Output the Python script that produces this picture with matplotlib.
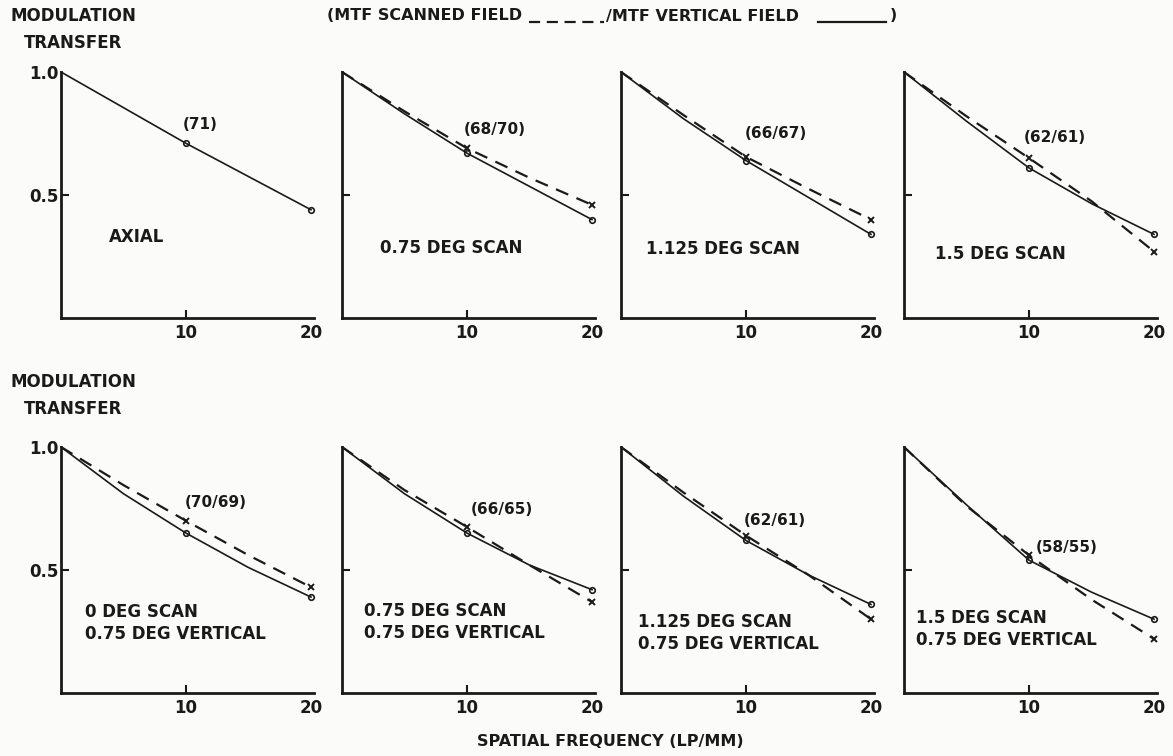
import matplotlib
matplotlib.use("Agg")
import matplotlib.pyplot as plt
from matplotlib.lines import Line2D

plt.rcParams["font.family"] = ["DejaVu Sans"]
plt.rcParams["font.weight"] = "bold"

# spatial frequency (lp/mm) where curves were read
freq = [0, 5, 10, 15, 20]

# top row: scanned field (dashed) / vertical field (solid)
top_labels = ["AXIAL", "0.75 DEG SCAN", "1.125 DEG SCAN", "1.5 DEG SCAN"]
top_tags = ["(71)", "(68/70)", "(66/67)", "(62/61)"]
top_solid = [
    [1.0, 0.855, 0.71, 0.575, 0.44],
    [1.0, 0.83, 0.67, 0.535, 0.40],
    [1.0, 0.81, 0.64, 0.49, 0.34],
    [1.0, 0.80, 0.61, 0.465, 0.34],
]
top_dashed = [
    None,
    [1.0, 0.84, 0.69, 0.57, 0.46],
    [1.0, 0.825, 0.655, 0.525, 0.40],
    [1.0, 0.82, 0.65, 0.475, 0.27],
]

# bottom row: scan angle with 0.75 deg vertical
bot_labels = ["0 DEG SCAN\n0.75 DEG VERTICAL", "0.75 DEG SCAN\n0.75 DEG VERTICAL",
              "1.125 DEG SCAN\n0.75 DEG VERTICAL", "1.5 DEG SCAN\n0.75 DEG VERTICAL"]
bot_tags = ["(70/69)", "(66/65)", "(62/61)", "(58/55)"]
bot_solid = [
    [1.0, 0.81, 0.65, 0.51, 0.39],
    [1.0, 0.81, 0.65, 0.52, 0.42],
    [1.0, 0.80, 0.62, 0.48, 0.36],
    [1.0, 0.765, 0.54, 0.41, 0.30],
]
bot_dashed = [
    [1.0, 0.845, 0.70, 0.56, 0.43],
    [1.0, 0.825, 0.675, 0.52, 0.37],
    [1.0, 0.815, 0.64, 0.48, 0.30],
    [1.0, 0.76, 0.56, 0.38, 0.22],
]

# annotation placement (data coords) per panel
top_tag_pos = [(11.1, 0.785), (12.2, 0.765), (12.4, 0.75), (12.1, 0.735)]
top_lab_pos = [(3.8, 0.33), (3.0, 0.285), (2.0, 0.28), (2.5, 0.26)]
bot_tag_pos = [(12.4, 0.775), (12.8, 0.745), (12.3, 0.70), (13.0, 0.59)]
bot_lab_pos = [(1.9, 0.285), (1.8, 0.29), (1.4, 0.245), (1.0, 0.26)]

W, H = 1173, 756
ink = "#1a1a1a"
fig = plt.figure(figsize=(W / 100, H / 100), dpi=100, facecolor="#fbfbfa")

lefts = [61, 342, 621, 904]
px_per_unit = 12.5


def panel(left, bottom_px, top_px, solid, dashed, tag, tag_pos, lab, lab_pos, first):
    width = 21 * px_per_unit
    ax = fig.add_axes([left / W, 1 - bottom_px / H, width / W, (bottom_px - top_px) / H])
    ax.set_facecolor("none")
    ax.set_xlim(0, 21)
    ax.set_ylim(0, 1.0)
    for s in ["top", "right"]:
        ax.spines[s].set_visible(False)
    for s in ["left", "bottom"]:
        ax.spines[s].set_linewidth(2.0)
        ax.spines[s].set_color(ink)
    ax.spines["bottom"].set_bounds(0, 20.2)
    ax.set_xticks([10, 20])
    ax.set_xticklabels(["10", "20"])
    ax.xaxis.get_major_ticks()[1].tick1line.set_visible(False)
    ax.set_yticks([0.5, 1.0])
    if first:
        ax.set_yticklabels(["0.5", "1.0"])
    else:
        ax.set_yticklabels(["", ""])
    ax.yaxis.get_major_ticks()[1].tick1line.set_visible(False)
    ax.tick_params(direction="in", length=6, width=1.5, color=ink, labelsize=12,
                   labelcolor=ink, pad=4)
    ax.tick_params(axis="y", pad=2)
    ax.plot(freq, solid, color=ink, lw=1.2, marker="o", markevery=[2, 4],
            ms=4, mfc="none", mew=1.2, clip_on=False)
    if dashed is not None:
        ax.plot(freq, dashed, color=ink, lw=1.6, ls=(0, (6, 4)), marker="x",
                markevery=[2, 4], ms=5, mew=1.4, clip_on=False)
    ax.text(tag_pos[0], tag_pos[1], tag, ha="center", va="center", fontsize=11,
            color=ink)
    ax.text(lab_pos[0], lab_pos[1], lab, ha="left", va="center", fontsize=12,
            color=ink, linespacing=1.3)
    return ax


for i in range(4):
    panel(lefts[i], 318, 72, top_solid[i], top_dashed[i], top_tags[i],
          top_tag_pos[i], top_labels[i], top_lab_pos[i], i == 0)
    panel(lefts[i], 693, 447, bot_solid[i], bot_dashed[i], bot_tags[i],
          bot_tag_pos[i], bot_labels[i], bot_lab_pos[i], i == 0)

for y0 in (16, 382):
    fig.text(73 / W, 1 - y0 / H, "MODULATION", ha="center", va="center",
             fontsize=12, color=ink)
    fig.text(73 / W, 1 - (y0 + 27) / H, "TRANSFER", ha="center", va="center",
             fontsize=12, color=ink)

# header key: text pieces with real dashed / solid line samples
fig.text(327 / W, 1 - 16 / H, "(MTF SCANNED FIELD", ha="left", va="center",
         fontsize=11.5, color=ink)
fig.add_artist(Line2D([529 / W, 604 / W], [1 - 22 / H, 1 - 22 / H], color=ink,
                      lw=1.6, ls=(0, (5, 3))))
fig.text(606 / W, 1 - 16 / H, "/MTF VERTICAL FIELD", ha="left", va="center",
         fontsize=11.5, color=ink)
fig.add_artist(Line2D([818 / W, 886 / W], [1 - 22 / H, 1 - 22 / H], color=ink,
                      lw=1.6))
fig.text(890 / W, 1 - 16 / H, ")", ha="left", va="center", fontsize=11.5,
         color=ink)

fig.text(610 / W, 1 - 741 / H, "SPATIAL FREQUENCY (LP/MM)", ha="center",
         va="center", fontsize=11.5, color=ink)

fig.savefig("out.png", dpi=100, facecolor=fig.get_facecolor())
